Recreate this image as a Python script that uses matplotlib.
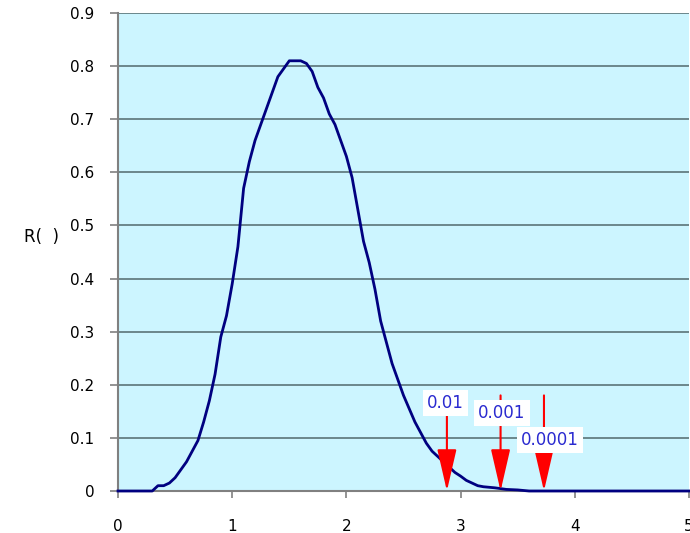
import numpy as np
import matplotlib
matplotlib.use("Agg")
import matplotlib.pyplot as plt

# distribution curve R(x)
xs = [0.00, 0.30, 0.35, 0.40, 0.45, 0.50, 0.55, 0.60, 0.65, 0.70, 0.75, 0.80,
      0.85, 0.90, 0.95, 1.00, 1.05, 1.10, 1.15, 1.20, 1.25, 1.30, 1.35, 1.40,
      1.45, 1.50, 1.55, 1.60, 1.65, 1.70, 1.75, 1.80, 1.85, 1.90, 1.95, 2.00,
      2.05, 2.10, 2.15, 2.20, 2.25, 2.30, 2.35, 2.40, 2.45, 2.50, 2.55, 2.60,
      2.65, 2.70, 2.75, 2.80, 2.85, 2.90, 2.95, 3.00, 3.05, 3.10, 3.15, 3.20,
      3.25, 3.30, 3.40, 3.50, 3.60, 5.00]
rs = [0.000, 0.000, 0.010, 0.010, 0.015, 0.025, 0.040, 0.055, 0.075, 0.095,
      0.130, 0.170, 0.220, 0.290, 0.330, 0.390, 0.460, 0.570, 0.620, 0.660,
      0.690, 0.720, 0.750, 0.780, 0.795, 0.810, 0.810, 0.810, 0.805, 0.790,
      0.760, 0.740, 0.710, 0.690, 0.660, 0.630, 0.590, 0.530, 0.470, 0.430,
      0.380, 0.320, 0.280, 0.240, 0.210, 0.180, 0.155, 0.130, 0.110, 0.090,
      0.075, 0.065, 0.055, 0.045, 0.035, 0.028, 0.020, 0.015, 0.010, 0.008,
      0.007, 0.006, 0.003, 0.002, 0.000, 0.000]

# tail thresholds marked with arrows
levels = ["0.01", "0.001", "0.0001"]
level_x = [2.88, 3.35, 3.73]
label_xy = [(2.87, 0.166), (3.36, 0.147), (3.78, 0.096)]
arrow_top = 0.18

fig = plt.figure(figsize=(6.9, 5.33), dpi=100)
ax = fig.add_axes([118 / 690, 1 - 491 / 533, 571 / 690, 478 / 533])
ax.set_facecolor("#ccf5ff")

ax.plot(xs, rs, color="#000080", lw=2.0, zorder=3, clip_on=False)

ax.set_xlim(0, 5)
ax.set_ylim(0, 0.9)
ax.set_xticks(np.arange(0, 6, 1))
ax.set_xticklabels([str(i) for i in range(6)])
ax.set_yticks(np.round(np.arange(0, 0.91, 0.1), 1))
ax.set_yticklabels(["0"] + [f"{v:.1f}" for v in np.arange(0.1, 0.91, 0.1)])
ax.yaxis.grid(True, color="#5b7478", lw=1.2)
ax.set_axisbelow(True)

for s in ["top", "right"]:
    ax.spines[s].set_visible(False)
for s in ["left", "bottom"]:
    ax.spines[s].set_color("#808080")
    ax.spines[s].set_linewidth(1.5)
ax.tick_params(axis="y", direction="out", length=6, width=1.2,
               color="#808080", pad=11, labelsize=11)
ax.tick_params(axis="x", direction="out", length=5, width=1.2,
               color="#808080", pad=15, labelsize=11)

for lab, lx, (tx, ty) in zip(levels, level_x, label_xy):
    ax.annotate("", xy=(lx, 0), xytext=(lx, arrow_top),
                arrowprops=dict(arrowstyle="-|>,head_length=2.6,head_width=0.6",
                                color="#ff0000", lw=1.5, shrinkA=0, shrinkB=0,
                                mutation_scale=10),
                zorder=4)
    ax.text(tx, ty, lab, color="#2a2ad0", fontsize=12, ha="center", va="center",
            bbox=dict(facecolor="white", edgecolor="none", pad=3), zorder=5)

fig.text(41 / 690, 1 - 237 / 533, "R(  )", fontsize=12, ha="center", va="center")

fig.savefig("out.png", dpi=100)
